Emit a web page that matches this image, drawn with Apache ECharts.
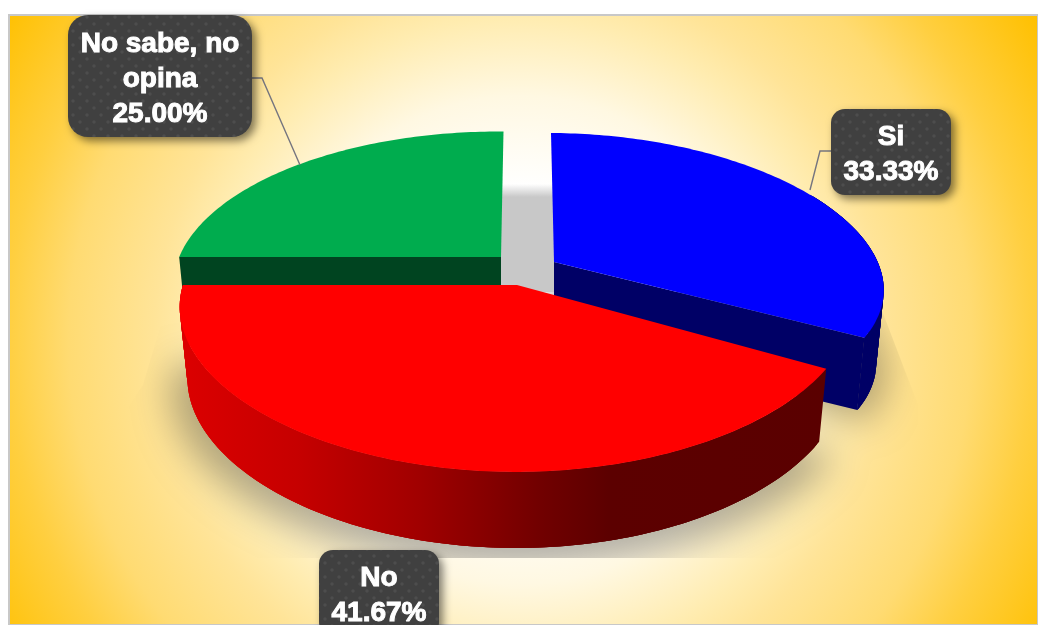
<!DOCTYPE html>
<html><head><meta charset="utf-8">
<style>html,body{margin:0;padding:0;background:#fff;overflow:hidden}#c{width:1038px;height:625px}</style>
<script src="https://cdn.jsdelivr.net/npm/echarts@6/dist/echarts.min.js"></script>
</head><body><div id="c"></div>
<script>
const categories = ['Si', 'No', 'No sabe, no opina'];
const labelLines = ['Si', 'No', 'No sabe, no\nopina'];
const values = [33.33, 41.67, 25.00];

const topColors = ['#0000ff', '#ff0000', '#00ac4e'];
const wallColors = ['#000066', null, '#004420'];
const drawOrder = [20, 30, 10];
const centers = [[554, 262], [517, 285], [501, 257]];
const boxes = [
  { x: 831, y: 109, w: 120, h: 86, r: 14 },
  { x: 319, y: 550, w: 120, h: 86, r: 14 },
  { x: 68, y: 15, w: 184, h: 122, r: 20 }
];
const leaders = [
  [[831, 151], [820, 151], [810, 190]],
  null,
  [[252, 78], [262, 78], [300, 165]]
];

// per-slice perspective of the tilted disc: [Si, No, No sabe]
const radX = [328.5, 333, 317], radY = [144.5, 152.5, 148.6];
const tiltX = [0.184, 0.14, 0.184], tiltY = [0.12, 0.184, 0.184];
const skew = [-0.015, -0.003, -0.015], lean = [3, 0, -2.5];
const drop = [74, 70.6, 74], shrinkX = [0.977, 0.977, 0.977], shrinkY = [0.977, 1.029, 0.977];

const total = values.reduce((a, b) => a + b, 0);
const starts = [];
values.reduce((acc, v, i) => { starts[i] = acc; return acc + v / total * 360; }, 0);

function project(i, deg, level, grow, dy) {
  const t = deg * Math.PI / 180, c = Math.sin(t), u = -Math.cos(t);
  const g = grow || 1;
  let x = g * radX[i] * c / (1 - tiltX[i] * u - skew[i] * c) + lean[i] * u;
  let y = g * radY[i] * u / (1 - tiltY[i] * u - skew[i] * c);
  if (level) { x *= shrinkX[i]; y = y * shrinkY[i] + drop[i]; }
  return [centers[i][0] + x, centers[i][1] + y + (dy || 0)];
}
function rim(i, level, grow, dy, from) {
  const a = starts[i] + (from || 0), b = starts[i] + values[i] / total * 360, pts = [];
  const n = Math.ceil(b - a);
  for (let j = 0; j <= n; j++) pts.push(project(i, a + (b - a) * j / n, level, grow, dy));
  return pts;
}
function baseCenter(i) { return [centers[i][0], centers[i][1] + drop[i]]; }

const redWall = {
  type: 'linear', global: true, x: 180, y: 0, x2: 830, y2: 0,
  colorStops: [
    { offset: 0, color: '#dc0000' }, { offset: 0.18, color: '#c60000' },
    { offset: 0.37, color: '#a00000' }, { offset: 0.55, color: '#720000' },
    { offset: 0.66, color: '#5c0000' }, { offset: 1, color: '#5a0000' }
  ]
};
const bg = {
  type: 'radial', global: true, x: 520, y: 340, r: 610,
  colorStops: [
    { offset: 0, color: '#ffffff' }, { offset: 0.25, color: '#ffffff' },
    { offset: 0.4, color: '#fff8e2' }, { offset: 0.53, color: '#ffecb0' },
    { offset: 0.6, color: '#ffe498' }, { offset: 0.74, color: '#ffdb72' },
    { offset: 0.84, color: '#ffcf40' }, { offset: 1, color: '#ffc000' }
  ]
};

function renderBackdrop() {
  const OFF = 3000;
  const subPath = pts => 'M' + pts.map(p => (p[0] - OFF).toFixed(1) + ' ' + p[1].toFixed(1)).join('L') + 'Z';
  const red = rim(1, 1, 1.05, 10).concat([baseCenter(1)]);
  const blue = rim(0, 1, 1.03, 8).concat([baseCenter(0)]);
  return {
    type: 'group',
    children: [
      { type: 'rect', shape: { x: 9, y: 15, width: 1029, height: 610 }, style: { fill: bg, stroke: '#c8c8c8', lineWidth: 2 } },
      {
        type: 'polygon', shape: { points: [[492, 184], [560, 184], [560, 292], [492, 292]] },
        style: { fill: { type: 'linear', global: true, x: 0, y: 184, x2: 0, y2: 197, colorStops: [{ offset: 0, color: 'rgba(200,200,200,0)' }, { offset: 1, color: 'rgb(200,200,200)' }] } }
      },
      {
        type: 'path', shape: { pathData: subPath(red) + subPath(blue) },
        style: { fill: '#000', shadowColor: 'rgba(0,0,0,0.3)', shadowBlur: 36, shadowOffsetX: OFF, shadowOffsetY: 0 },
        clipPath: { type: 'polygon', shape: { points: [[178, 268], [300, 292], [700, 292], [881, 308], [918, 405], [918, 558], [120, 558], [120, 420], [143, 385]] } }
      }
    ]
  };
}
function renderSlice(params) {
  const i = params.dataIndex, z = drawOrder[i], kids = [];
  const top = rim(i, 0), base = rim(i, 1), c = centers[i], bc = baseCenter(i);
  const wallFill = wallColors[i] || redWall;
  if (i === 0) {
    const e = top.length - 1;
    kids.push({ type: 'polygon', z2: z, shape: { points: [c, top[e], base[e], bc] }, style: { fill: wallFill } });
  }
  if (i === 2) {
    kids.push({ type: 'polygon', z2: z, shape: { points: [c, top[0], base[0], bc] }, style: { fill: wallFill } });
  }
  if (i !== 2) {
    const from = i === 0 ? 60 : 0;
    const t = rim(i, 0, 1, 0, from), b = rim(i, 1, 1, 0, from);
    for (let j = 0; j + 1 < t.length; j++) {
      const k = Math.min(j + 3, t.length - 1);
      kids.push({ type: 'polygon', z2: z + 1, shape: { points: [t[j], t[j + 1], t[k], b[k], b[j + 1], b[j]] }, style: { fill: wallFill } });
    }
  }
  kids.push({ type: 'polygon', z2: z + 2, shape: { points: [c].concat(top) }, style: { fill: topColors[i] } });
  return { type: 'group', children: kids };
}
function dotPattern() {
  const cv = document.createElement('canvas');
  cv.width = cv.height = 14;
  const g = cv.getContext('2d');
  g.fillStyle = '#404040'; g.fillRect(0, 0, 14, 14);
  g.fillStyle = '#4d4d4d';
  [[3, 3], [10, 10]].forEach(p => { g.beginPath(); g.arc(p[0], p[1], 1.7, 0, 7); g.fill(); });
  return cv;
}
const tile = dotPattern();
function renderLabel(params) {
  const i = params.dataIndex, b = boxes[i], kids = [];
  if (leaders[i]) {
    kids.push({ type: 'polyline', z2: 40, shape: { points: leaders[i] }, style: { fill: null, stroke: '#75757f', lineWidth: 1.4 } });
  }
  kids.push({
    type: 'rect', z2: 41, shape: { x: b.x, y: b.y, width: b.w, height: b.h, r: b.r },
    style: { fill: { image: tile, repeat: 'repeat' }, shadowColor: 'rgba(0,0,0,0.5)', shadowBlur: 8, shadowOffsetX: 4, shadowOffsetY: 4 }
  });
  kids.push({
    type: 'text', z2: 42,
    style: {
      x: b.x + b.w / 2, y: b.y + b.h / 2 + 3,
      text: labelLines[i] + '\n' + values[i].toFixed(2) + '%',
      fill: '#fff', stroke: '#fff', lineWidth: 1,
      font: 'bold 28px "Liberation Sans", Arial, sans-serif',
      lineHeight: 35, align: 'center', verticalAlign: 'middle'
    }
  });
  return { type: 'group', children: kids };
}
const chart = echarts.init(document.getElementById('c'), null, { renderer: 'canvas' });
chart.setOption({
  animation: false,
  tooltip: { show: false },
  series: [
    { type: 'custom', name: 'backdrop', coordinateSystem: 'none', silent: true, z: 1, clip: false, renderItem: renderBackdrop, data: [0] },
    { type: 'custom', name: 'pie', coordinateSystem: 'none', silent: true, z: 2, clip: false, renderItem: renderSlice, data: categories.map((n, i) => ({ name: n, value: values[i] })) },
    { type: 'custom', name: 'labels', coordinateSystem: 'none', silent: true, z: 3, clip: false, renderItem: renderLabel, data: categories.map((n, i) => ({ name: n, value: values[i] })) }
  ]
});
</script></body></html>
